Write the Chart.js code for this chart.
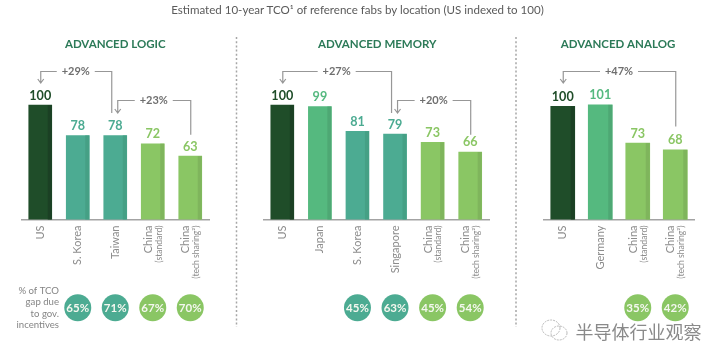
<!DOCTYPE html>
<html><head><meta charset="utf-8">
<style>
html,body{margin:0;padding:0;background:#fff;width:724px;height:364px;overflow:hidden}
canvas{position:absolute;left:0;top:0}
#t{position:absolute;left:0;top:1px;width:715px;text-align:center;font:11.55px/18px Lato,sans-serif;color:#5a5a5a}
</style></head><body>
<canvas id="c1" width="724" height="364"></canvas>
<canvas id="c2" width="724" height="364"></canvas>
<canvas id="c3" width="724" height="364"></canvas>
<div id="t">Estimated 10-year TCO¹ of reference fabs by location (US indexed to 100)</div>
<script src="https://cdn.jsdelivr.net/npm/chart.js@4"></script>
<script>
const logicCategories  = ["US","S. Korea","Taiwan","China|(standard)","China|(tech sharing²)"];
const logicValues      = [100,78,78,72,63];
const logicShares      = [null,65,71,67,70];
const logicTones       = ["us","peer","peer","china","china"];
const logicGaps        = [["+29%",0,2],["+23%",2,4]];

const memoryCategories = ["US","Japan","S. Korea","Singapore","China|(standard)","China|(tech sharing²)"];
const memoryValues     = [100,99,81,79,73,66];
const memoryShares     = [null,null,45,63,45,54];
const memoryTones      = ["us","ally","peer","peer","china","china"];
const memoryGaps       = [["+27%",0,3],["+20%",3,5]];

const analogCategories = ["US","Germany","China|(standard)","China|(tech sharing²)"];
const analogValues     = [100,101,73,68];
const analogShares     = [null,null,35,42];
const analogTones      = ["us","ally","china","china"];
const analogGaps       = [["+47%",0,3]];

const shareCaption = ["% of TCO","gap due","to gov.","incentives"];

const FACE  = {us:"#1f4d29",ally:"#55b97f",peer:"#4cab92",china:"#8ac664"};
const SIDE  = {us:"#1b4024",ally:"#4ea874",peer:"#45a085",china:"#7fb55c"};
const INK   = {us:"#1f4d29",ally:"#55b97f",peer:"#4cab92",china:"#8ac664"};
const FONT  = "Lato, sans-serif";
const BASE_Y = 219.5, TOP_Y = 40;

function panel(id,title,cats,vals,shares,tones,gaps,o,extra){
  const overlay = {
    id:"overlay"+id,
    afterDatasetsDraw(ch){
      const c=ch.ctx, m=ch.getDatasetMeta(0), x=ch.scales.x, a=ch.chartArea;
      c.save();
      // side shading and value labels
      m.data.forEach((b,i)=>{
        const r=b.x+b.width/2, bw=o.side;
        c.fillStyle=SIDE[tones[i]];
        c.fillRect(r-bw,b.y,bw,a.bottom-b.y);
        c.fillStyle=INK[tones[i]];
        c.font="700 12.6px "+FONT; c.textAlign="center"; c.textBaseline="alphabetic";
        c.fillText(String(vals[i]),b.x,b.y-5.5);
      });
      // panel title
      c.fillStyle="#2c7a58"; c.font="700 11.5px "+FONT; c.textAlign="center"; c.textBaseline="middle";
      c.fillText(title,(a.left+a.right)/2+o.titleDx,44);
      // rotated category labels
      cats.forEach((s,i)=>{
        const px=x.getPixelForTick(i), [main,sub]=s.split("|");
        const put=(t,dx,f,col)=>{c.save();c.translate(px+dx,225.5);c.rotate(-Math.PI/2);
          c.textAlign="right";c.textBaseline="middle";c.font=f;c.fillStyle=col;c.fillText(t,0,0);c.restore();};
        put(main,sub?-4.5:0,"400 11px "+FONT,"#8c8c8c");
        if(sub) put(sub,6,"400 8.6px "+FONT,"#8c8c8c");
      });
      // share circles
      shares.forEach((v,i)=>{
        if(v==null) return;
        const px=x.getPixelForTick(i);
        c.fillStyle=FACE[tones[i]];
        c.beginPath(); c.arc(px,307.7,13.5,0,Math.PI*2); c.fill();
        c.fillStyle="#f4f7ef"; c.font="700 11.5px "+FONT; c.textAlign="center"; c.textBaseline="middle";
        c.fillText(v+"%",px,308);
      });
      // gap brackets
      gaps.forEach(([lab,from,to],k)=>{
        const y=k===0?71:100, nested=gaps.length>1;
        const xa=x.getPixelForTick(from)+(k===0?0:2);
        const xb=x.getPixelForTick(to)-(k===0&&nested?4:0);
        const yEnd=k===0?(nested?113:m.data[to].y-23.5):134.7;
        const ya=k===0?83:113;
        const mid=(xa+xb)/2;
        c.strokeStyle="#979797"; c.lineWidth=1.2;
        c.beginPath();
        c.moveTo(xa+.5,ya); c.lineTo(xa+.5,y+.5); c.lineTo(mid-19,y+.5);
        c.moveTo(mid+19,y+.5); c.lineTo(xb+.5,y+.5); c.lineTo(xb+.5,yEnd);
        c.moveTo(xa-2.5,ya-4); c.lineTo(xa+.5,ya); c.lineTo(xa+3.5,ya-4);
        c.stroke();
        c.fillStyle="#6f6f6f"; c.font="700 11px "+FONT; c.textAlign="center"; c.textBaseline="middle";
        c.fillText(lab,mid,y+.5);
      });
      c.restore();
    }
  };
  return new Chart(document.getElementById(id),{
    type:"bar",
    data:{labels:cats.map(s=>s.replace("|"," ")),datasets:[{
      data:vals,
      backgroundColor:tones.map(t=>FACE[t]),
      barThickness:o.bar,borderWidth:0
    }]},
    options:{
      responsive:false,animation:false,
      layout:{padding:{left:o.left,right:724-o.right,top:TOP_Y,bottom:364-BASE_Y}},
      plugins:{legend:{display:false},tooltip:{enabled:false},title:{display:false}},
      scales:{
        x:{grid:{display:false,drawTicks:false},ticks:{display:false},
           border:{display:true,color:"#a3a3a3",width:1.5},afterFit(s){s.height=0}},
        y:{display:false,min:17,max:o.max}
      }
    },
    plugins:extra?[overlay,extra]:[overlay]
  });
}

const furniture = {
  id:"furniture",
  afterDraw(ch){
    const c=ch.ctx; c.save();
    c.strokeStyle="#a6a6a6"; c.lineWidth=1.5; c.setLineDash([2,2.2]);
    [236.5,516].forEach(x=>{c.beginPath();c.moveTo(x,37);c.lineTo(x,327);c.stroke();});
    c.setLineDash([]);
    c.fillStyle="#858585"; c.font="400 9.6px "+FONT; c.textAlign="right"; c.textBaseline="middle";
    shareCaption.forEach((t,i)=>c.fillText(t,59,291+i*11.3));
    // watermark
    c.strokeStyle="#a8a8a8"; c.lineWidth=.8; c.setLineDash([2,1]);
    c.beginPath(); c.ellipse(551,328,9,8,0,0,Math.PI*2); c.stroke();
    c.beginPath(); c.ellipse(559,333,8,7,0,0,Math.PI*2); c.stroke();
    c.setLineDash([]);
    c.fillStyle="#8a8a8a"; c.font="400 18px 'Noto Sans CJK SC'"; c.textAlign="left"; c.textBaseline="middle";
    c.fillText("半导体行业观察",575.5,332);
    c.restore();
  }
};

panel("c1","ADVANCED LOGIC",logicCategories,logicValues,logicShares,logicTones,logicGaps,
  {left:21.5,right:209,bar:23,side:4,max:147.3,titleDx:0},furniture);
panel("c2","ADVANCED MEMORY",memoryCategories,memoryValues,memoryShares,memoryTones,memoryGaps,
  {left:263.5,right:489,bar:23,side:4,max:147.3,titleDx:1});
panel("c3","ADVANCED ANALOG",analogCategories,analogValues,analogShares,analogTones,analogGaps,
  {left:544,right:694,bar:24,side:4,max:148.6,titleDx:-1});
</script>
</body></html>
